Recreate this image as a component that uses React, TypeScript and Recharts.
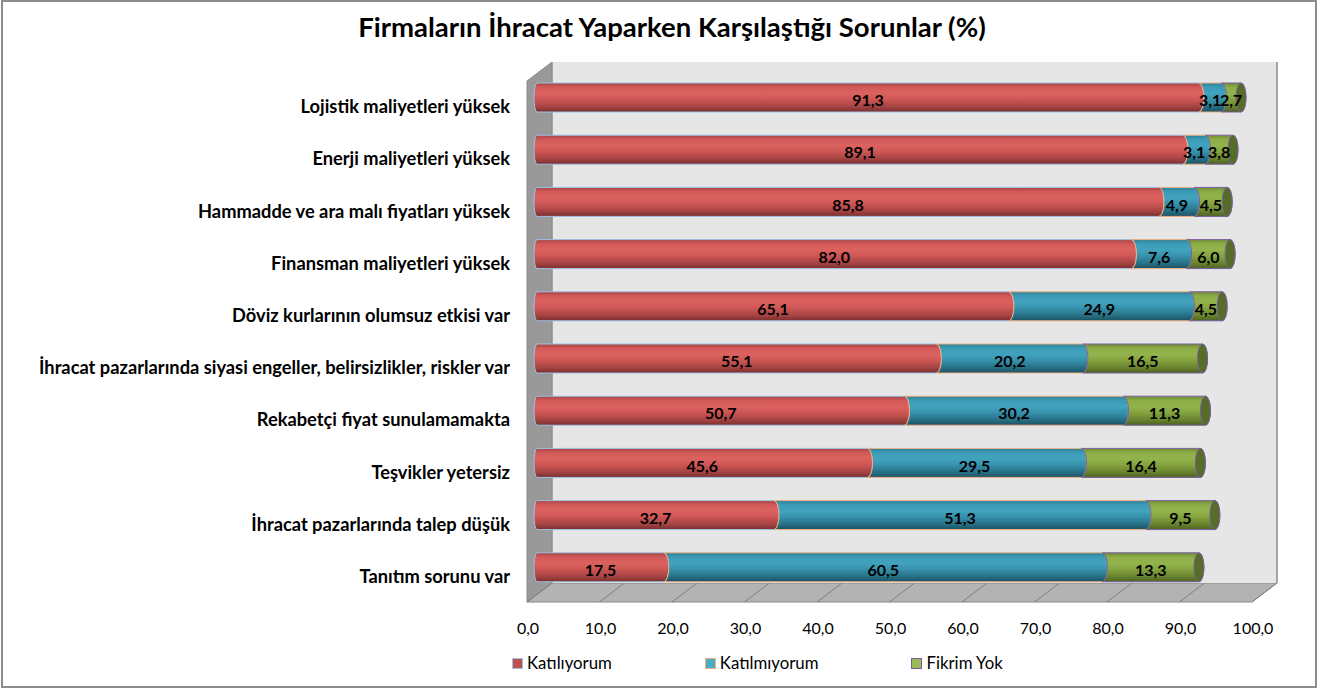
import React from "react";
import {
  BarChart,
  Bar,
  XAxis,
  YAxis,
  CartesianGrid,
  LabelList,
} from "recharts";

// Data
const categories = [
  "Lojistik maliyetleri yüksek",
  "Enerji maliyetleri yüksek",
  "Hammadde ve ara malı fiyatları yüksek",
  "Finansman maliyetleri yüksek",
  "Döviz kurlarının olumsuz etkisi var",
  "İhracat pazarlarında siyasi engeller, belirsizlikler, riskler var",
  "Rekabetçi fiyat sunulamamakta",
  "Teşvikler yetersiz",
  "İhracat pazarlarında talep düşük",
  "Tanıtım sorunu var",
];
const katiliyorum = [91.3, 89.1, 85.8, 82.0, 65.1, 55.1, 50.7, 45.6, 32.7, 17.5];
const katilmiyorum = [3.1, 3.1, 4.9, 7.6, 24.9, 20.2, 30.2, 29.5, 51.3, 60.5];
const fikrimYok = [2.7, 3.8, 4.5, 6.0, 4.5, 16.5, 11.3, 16.4, 9.5, 13.3];
const xTicks = [0, 10, 20, 30, 40, 50, 60, 70, 80, 90, 100];

const title = "Firmaların İhracat Yaparken Karşılaştığı Sorunlar (%)";

const series = [
  { key: "katiliyorum", name: "Katılıyorum", color: "#c0504d", edge: "#9dc3e6", cap: "#8e3533" },
  { key: "katilmiyorum", name: "Katılmıyorum", color: "#4bacc6", edge: "#f0b080", cap: "#23697c" },
  { key: "fikrimYok", name: "Fikrim Yok", color: "#9bbb59", edge: "#7a5fa0", cap: "#566d28" },
];

const data = categories.map((name, i) => ({
  name,
  katiliyorum: katiliyorum[i],
  katilmiyorum: katilmiyorum[i],
  fikrimYok: fikrimYok[i],
}));

const FONT = "Lato, 'Open Sans', sans-serif";
const W = 1324;
const H = 690;

// 3D box geometry (front plane / back plane)
const FRONT_L = 527;
const FRONT_R = 1252;
const BACK_L = 552;
const BACK_R = 1277;
const BACK_T = 62;
const BACK_B = 583;
const DX = BACK_L - FRONT_L;
const DY = 19;

const fmt = (v: number) => v.toFixed(1).replace(".", ",");

const makeCylinder =
  (idx: number) =>
  (props: any) => {
    const { x, y, width, height } = props;
    if (!width || width <= 0) return null;
    const rx = 5;
    const ry = height / 2;
    const top = y;
    const bot = y + height;
    const x0 = x;
    const x1 = x + width;
    const leftRx = idx === 0 ? 3 : rx;
    const leftSweep = idx === 0 ? 1 : 0;
    const d = `M ${x0} ${top} L ${x1} ${top} A ${rx} ${ry} 0 0 1 ${x1} ${bot} L ${x0} ${bot} A ${leftRx} ${ry} 0 0 ${leftSweep} ${x0} ${top} Z`;
    const s = series[idx];
    return (
      <g>
        <path d={d} fill={`url(#cyl-${idx})`} stroke={s.edge} strokeWidth={1} />
        {idx === series.length - 1 && (
          <ellipse
            cx={x1}
            cy={top + ry}
            rx={rx}
            ry={ry}
            fill={s.cap}
            stroke={s.edge}
            strokeWidth={1}
          />
        )}
      </g>
    );
  };

const gradStops: Record<number, string[]> = {
  0: ["#a54543", "#d35a58", "#db625f", "#cf5755", "#a84544", "#7a2f2e"],
  1: ["#2f7f95", "#3c9cb8", "#42a3bf", "#3893ae", "#287389", "#1b5161"],
  2: ["#6f8c35", "#8dad47", "#93b34c", "#86a540", "#6b8630", "#4c6220"],
};

const YTick = (props: any) => {
  const { y, payload } = props;
  return (
    <text
      x={510}
      y={y + 16}
      textAnchor="end"
      fontFamily={FONT}
      fontWeight={700}
      fontSize={18.3}
      fill="#000"
    >
      {payload.value}
    </text>
  );
};

const XTick = (props: any) => {
  const { x, payload } = props;
  return (
    <text
      x={x - 9}
      y={634}
      textAnchor="middle"
      fontFamily={FONT}
      fontSize={16}
      fill="#000"
    >
      {fmt(payload.value)}
    </text>
  );
};

export default function App() {
  return (
    <div
      style={{
        position: "absolute",
        left: 0,
        top: 0,
        width: W,
        height: H,
        background: "#fff",
        fontFamily: FONT,
      }}
    >
      {/* frame, side wall and floor */}
      <svg width={W} height={H} style={{ position: "absolute", left: 0, top: 0 }}>
        <rect x={2} y={1} width={1314} height={686} fill="#fff" stroke="#8c8c8c" strokeWidth={2} />
        <polygon
          points={`${FRONT_L},${BACK_T + DY} ${BACK_L},${BACK_T} ${BACK_L},${BACK_B} ${FRONT_L},${BACK_B + DY}`}
          fill="#999999"
          stroke="#8a8a8a"
        />
        <polygon
          points={`${FRONT_L},${BACK_B + DY} ${BACK_L},${BACK_B} ${BACK_R},${BACK_B} ${FRONT_R},${BACK_B + DY}`}
          fill="#b3b3b3"
          stroke="#8a8a8a"
        />
        {xTicks.map((t) => {
          const fx = FRONT_L + ((FRONT_R - FRONT_L) * t) / 100;
          return (
            <line
              key={t}
              x1={fx}
              y1={BACK_B + DY}
              x2={fx + DX}
              y2={BACK_B}
              stroke="#7f7f7f"
              strokeWidth={1}
            />
          );
        })}
      </svg>

      {/* back wall with gridlines */}
      <div style={{ position: "absolute", left: 0, top: 0 }}>
        <BarChart
          width={W}
          height={H}
          data={data}
          layout="vertical"
          margin={{ top: BACK_T, left: BACK_L, right: W - BACK_R, bottom: H - BACK_B }}
        >
          <CartesianGrid
            horizontal={false}
            vertical
            fill="#e6e6e6"
            stroke="#929292"
            strokeWidth={1.6}
          />
          <XAxis type="number" domain={[0, 100]} ticks={xTicks} hide />
          <YAxis type="category" dataKey="name" hide />
        </BarChart>
      </div>

      {/* bars */}
      <div style={{ position: "absolute", left: 0, top: 0 }}>
        <BarChart
          width={W}
          height={H}
          data={data}
          layout="vertical"
          margin={{ top: 71, left: 17, right: 62, bottom: 67 }}
          barSize={29}
        >
          <defs>
            {series.map((s, i) => (
              <linearGradient key={s.key} id={`cyl-${i}`} x1="0" y1="0" x2="0" y2="1">
                {gradStops[i].map((c, j) => (
                  <stop key={j} offset={`${[0, 15, 35, 55, 80, 100][j]}%`} stopColor={c} />
                ))}
              </linearGradient>
            ))}
          </defs>
          <XAxis
            type="number"
            domain={[0, 100]}
            ticks={xTicks}
            height={30}
            axisLine={false}
            tickLine={false}
            tick={<XTick />}
            interval={0}
          />
          <YAxis
            type="category"
            dataKey="name"
            width={520}
            axisLine={false}
            tickLine={false}
            tick={<YTick />}
            interval={0}
          />
          {series.map((s, i) => (
            <Bar
              key={s.key}
              dataKey={s.key}
              name={s.name}
              stackId="a"
              fill={s.color}
              shape={makeCylinder(i)}
              isAnimationActive={false}
            >
              <LabelList
                dataKey={s.key}
                position="center"
                formatter={(v: any) => fmt(Number(v))}
                fill="#000"
                fontFamily={FONT}
                fontWeight={700}
                fontSize={16}
                dy={3}
              />
            </Bar>
          ))}
        </BarChart>
      </div>

      {/* title */}
      <div
        style={{
          position: "absolute",
          left: 10,
          width: W,
          top: 10,
          textAlign: "center",
          fontWeight: 700,
          fontSize: 27.5,
          lineHeight: "34px",
          color: "#000",
        }}
      >
        {title}
      </div>

      {/* legend */}
      <div
        style={{
          position: "absolute",
          left: 512,
          top: 652,
          display: "flex",
          gap: 93,
          fontSize: 16.8,
          lineHeight: "22px",
          color: "#000",
        }}
      >
        {series.map((s) => (
          <div key={s.key} style={{ display: "flex", alignItems: "center", gap: 4 }}>
            <span
              style={{
                display: "inline-block",
                width: 9,
                height: 9,
                background: s.color,
                border: `1px solid ${s.edge}`,
              }}
            />
            <span>{s.name}</span>
          </div>
        ))}
      </div>
    </div>
  );
}
